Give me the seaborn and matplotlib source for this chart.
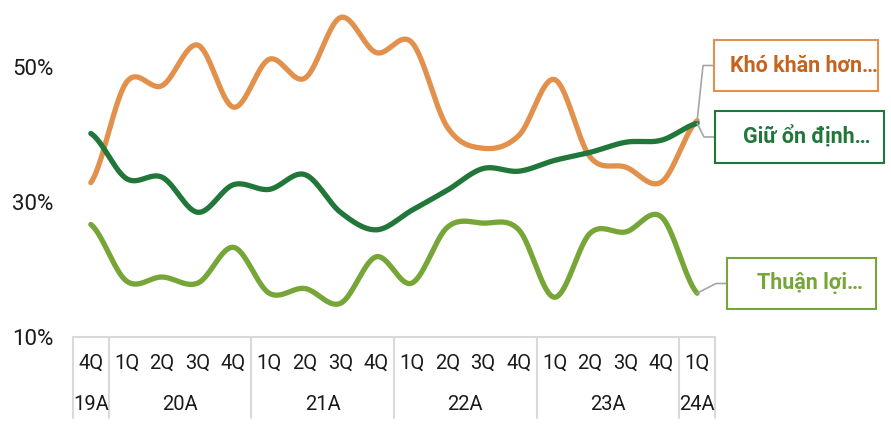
import numpy as np
import pandas as pd
import matplotlib
matplotlib.use("Agg")
import matplotlib.pyplot as plt
import matplotlib.transforms as mtransforms
from matplotlib.patches import Rectangle
import seaborn as sns

# ----------------------------------------------------------
# Data
# ----------------------------------------------------------
quarters = ["4Q", "1Q", "2Q", "3Q", "4Q", "1Q", "2Q", "3Q", "4Q",
            "1Q", "2Q", "3Q", "4Q", "1Q", "2Q", "3Q", "4Q", "1Q"]
years = ["19A", "20A", "21A", "22A", "23A", "24A"]
year_first = [0, 1, 5, 9, 13, 17]
year_last = [0, 4, 8, 12, 16, 17]

kho_khan = [32.9, 47.8, 47.3, 53.3, 44.1, 51.2, 48.4, 57.4, 52.2,
            53.7, 41.1, 38.0, 39.9, 48.2, 36.7, 35.2, 33.0, 42.1]
giu_on_dinh = [40.2, 33.5, 33.7, 28.5, 32.6, 31.9, 34.1, 28.5, 25.9,
               28.8, 31.8, 35.0, 34.6, 36.2, 37.4, 38.9, 39.2, 41.7]
thuan_loi = [26.7, 18.3, 18.9, 18.0, 23.3, 16.5, 17.2, 15.0, 21.9,
             18.0, 26.3, 26.9, 25.9, 15.9, 25.4, 25.6, 27.8, 16.5]

series_names = ["Khó khăn hơn…", "Giữ ổn định…", "Thuận lợi…"]
series_values = [kho_khan, giu_on_dinh, thuan_loi]
line_colors = ["#E2914D", "#21763A", "#76A638"]
text_colors = ["#C4641F", "#21763A", "#76A638"]


# smoothed line like the spreadsheet "smooth line" option (Catmull-Rom)
def smooth(vals, n=40):
    p = np.array(vals, dtype=float)
    p = np.concatenate([[p[0]], p, [p[-1]]])
    xs, ys = [], []
    t = np.linspace(0, 1, n, endpoint=False)
    for i in range(len(vals) - 1):
        p0, p1, p2, p3 = p[i], p[i + 1], p[i + 2], p[i + 3]
        y = 0.5 * (2 * p1 + (-p0 + p2) * t
                   + (2 * p0 - 5 * p1 + 4 * p2 - p3) * t ** 2
                   + (-p0 + 3 * p1 - 3 * p2 + p3) * t ** 3)
        xs.append(i + t)
        ys.append(y)
    xs.append([len(vals) - 1])
    ys.append([vals[-1]])
    return np.concatenate(xs), np.concatenate(ys)


frames = []
for name, vals in zip(series_names, series_values):
    sx, sy = smooth(vals)
    frames.append(pd.DataFrame({"x": sx, "y": sy, "series": name}))
df = pd.concat(frames, ignore_index=True)

# ----------------------------------------------------------
# Figure
# ----------------------------------------------------------
sns.set_theme(style="white")
plt.rcParams["font.family"] = ["Roboto", "DejaVu Sans"]

W, H = 891, 425
fig = plt.figure(figsize=(W / 100, H / 100), dpi=100)
ax = fig.add_axes([73 / W, 88 / H, 642 / W, 337 / H])

sns.lineplot(
    data=df, x="x", y="y", hue="series",
    palette=dict(zip(series_names, line_colors)),
    estimator=None, sort=False, linewidth=3.8,
    legend=False, ax=ax, solid_capstyle="round"
)

ax.set_xlim(-0.5, len(quarters) - 0.5)
ax.set_ylim(10, 60)
ax.set_xlabel("")
ax.set_ylabel("")
ax.set_xticks([])
ax.set_yticks([10, 30, 50])
ax.set_yticklabels(["10%", "30%", "50%"])
ax.tick_params(axis="y", length=0, pad=14, labelsize=16, labelcolor="#1a1a1a")
for s in ax.spines.values():
    s.set_visible(False)

# category axis (two-level)
grid_col = "#d9d9d9"
trans = mtransforms.blended_transform_factory(ax.transData, fig.transFigure)
ax.plot([-0.5, len(quarters) - 0.5], [10, 10], color=grid_col, lw=1.5, clip_on=False)
bounds = [f - 0.5 for f in year_first] + [len(quarters) - 0.5]
for b in bounds:
    ax.plot([b, b], [88 / H, 7 / H], color=grid_col, lw=1.5,
            transform=trans, clip_on=False)
for i, q in enumerate(quarters):
    ax.text(i, (H - 363) / H, q, transform=trans, ha="center", va="center",
            fontsize=14.5, color="#1a1a1a")
for y, a, b in zip(years, year_first, year_last):
    ax.text((a + b) / 2, (H - 405) / H, y, transform=trans, ha="center",
            va="center", fontsize=14.5, color="#1a1a1a")

# label boxes at the right
boxes = [(714, 40, 878, 91), (715, 111, 884, 163), (727, 258, 876, 309)]
text_x = [804, 807, 810]
last_i = len(quarters) - 1
for name, vals, lc, tc, (x0, y0, x1, y1), tx in zip(
        series_names, series_values, line_colors, text_colors, boxes, text_x):
    fig.add_artist(Rectangle((x0 / W, 1 - y1 / H), (x1 - x0) / W, (y1 - y0) / H,
                             transform=fig.transFigure, facecolor="white",
                             edgecolor=lc, lw=1.5))
    ym = (y0 + y1) / 2
    fig.text(tx / W, 1 - ym / H, name, ha="center", va="center",
             fontsize=15.5, fontweight="bold", color=tc)
    ax.annotate("", xy=(last_i, vals[-1]), xycoords="data",
                xytext=(x0 / W, 1 - ym / H), textcoords="figure fraction",
                arrowprops=dict(arrowstyle="-", color="#a6a6a6", lw=1.2,
                                shrinkA=0, shrinkB=0,
                                connectionstyle="arc,angleA=180,armA=11,angleB=0,armB=0,rad=0"),
                annotation_clip=False)

fig.savefig("out.png", dpi=100)
